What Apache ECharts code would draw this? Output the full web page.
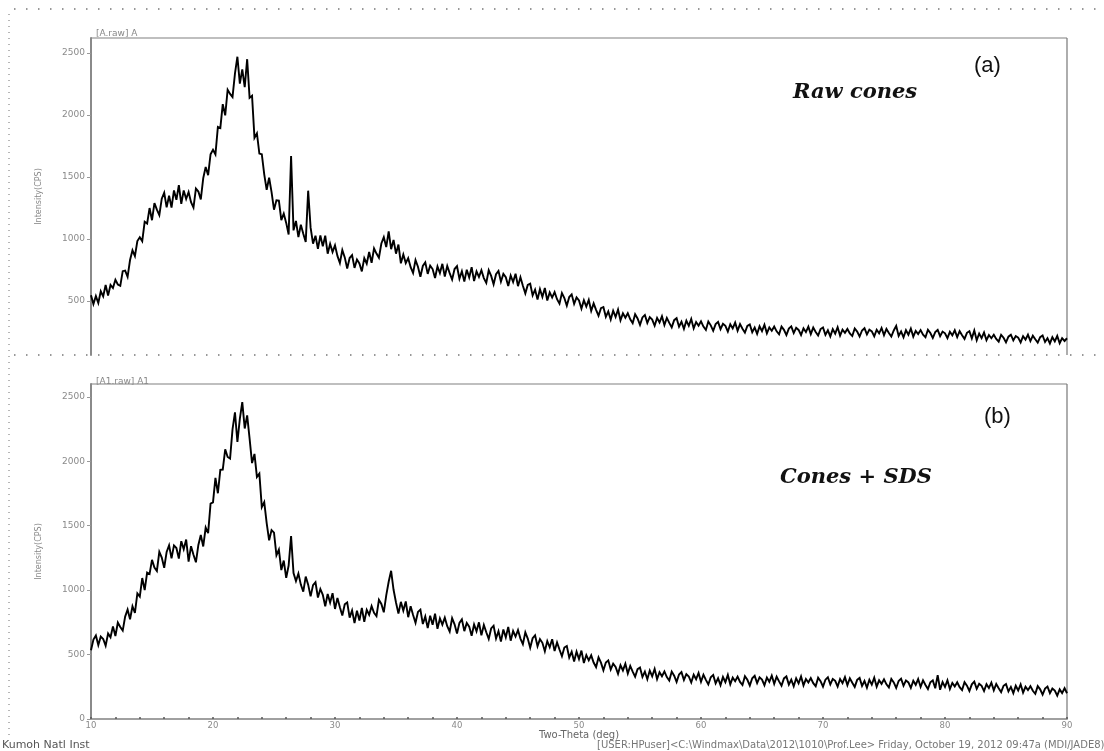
<!DOCTYPE html>
<html>
<head>
<meta charset="utf-8">
<script src="https://cdn.jsdelivr.net/npm/echarts@6/dist/echarts.min.js"></script>
<style>
html, body { margin: 0; padding: 0; background: #fff; }
#chart { width: 1104px; height: 751px; }
</style>
</head>
<body>
<div id="chart"></div>
<script>
// scan grid: 10..90 deg, 0.2 deg per point (one row = one degree)
const startDeg = 10;
const stepDeg = 0.2;

// (a) raw cones, counts
const rawCones = [
  547, 476, 540, 484, 579,
  538, 629, 544, 630, 605,
  671, 633, 623, 741, 746,
  695, 831, 909, 863, 984,
  1015, 983, 1140, 1125, 1250,
  1152, 1289, 1237, 1193, 1325,
  1374, 1255, 1349, 1254, 1392,
  1316, 1434, 1283, 1392, 1323,
  1379, 1297, 1254, 1407, 1383,
  1320, 1491, 1581, 1515, 1684,
  1720, 1682, 1904, 1895, 2088,
  1997, 2204, 2170, 2145, 2333,
  2470, 2253, 2368, 2225, 2450,
  2138, 2155, 1816, 1853, 1689,
  1684, 1522, 1397, 1494, 1379,
  1237, 1313, 1310, 1153, 1205,
  1130, 1037, 1670, 1070, 1146,
  1015, 1115, 1043, 977, 1390,
  1092, 963, 1027, 921, 1029,
  941, 1027, 882, 961, 896,
  949, 864, 807, 911, 852,
  763, 847, 870, 767, 835,
  803, 739, 846, 801, 896,
  809, 924, 883, 849, 964,
  1015, 935, 1062, 918, 993,
  882, 955, 804, 875, 806,
  846, 773, 727, 830, 777,
  696, 783, 812, 719, 786,
  758, 686, 779, 726, 800,
  698, 783, 725, 673, 758,
  781, 680, 740, 657, 753,
  690, 773, 661, 739, 694,
  748, 685, 646, 748, 703,
  635, 716, 743, 656, 719,
  692, 621, 706, 653, 720,
  620, 692, 624, 562, 630,
  640, 546, 592, 512, 596,
  533, 605, 504, 570, 528,
  572, 515, 479, 565, 524,
  463, 532, 554, 477, 530,
  505, 439, 506, 455, 509,
  421, 481, 429, 382, 443,
  452, 373, 416, 351, 422,
  372, 432, 345, 401, 365,
  402, 353, 322, 394, 360,
  308, 368, 388, 324, 370,
  351, 301, 364, 327, 377,
  307, 364, 324, 288, 346,
  362, 293, 333, 276, 342,
  300, 355, 279, 331, 301,
  337, 294, 267, 335, 304,
  260, 314, 332, 274, 317,
  300, 254, 313, 279, 326,
  261, 314, 277, 245, 299,
  312, 249, 287, 235, 296,
  257, 309, 240, 288, 261,
  295, 256, 232, 295, 268,
  226, 278, 296, 242, 284,
  267, 226, 280, 250, 294,
  234, 286, 251, 222, 274,
  287, 227, 264, 215, 274,
  237, 289, 221, 270, 244,
  275, 239, 218, 279, 254,
  214, 263, 281, 231, 270,
  255, 216, 269, 240, 283,
  225, 275, 242, 214, 263,
  300, 219, 255, 207, 265,
  229, 278, 213, 259, 234,
  266, 229, 208, 268, 242,
  202, 250, 267, 217, 254,
  240, 201, 252, 223, 264,
  209, 257, 224, 195, 244,
  257, 199, 262, 184, 238,
  201, 247, 184, 226, 200,
  228, 194, 173, 228, 204,
  167, 213, 229, 183, 218,
  205, 167, 217, 189, 229,
  177, 221, 192, 165, 209,
  222, 170, 201, 158, 208,
  175, 219, 160, 201, 178,
  200
];

// (b) cones + SDS
const conesSDS = [
  534, 616, 648, 574, 640,
  621, 569, 664, 634, 719,
  644, 748, 714, 686, 795,
  849, 774, 875, 824, 975,
  950, 1094, 1001, 1137, 1125,
  1235, 1176, 1149, 1298, 1253,
  1174, 1297, 1348, 1247, 1347,
  1327, 1245, 1380, 1318, 1393,
  1221, 1341, 1275, 1216, 1351,
  1428, 1339, 1486, 1443, 1672,
  1681, 1872, 1752, 1934, 1936,
  2093, 2034, 2021, 2248, 2380,
  2150, 2329, 2460, 2255, 2356,
  2176, 1986, 2057, 1879, 1904,
  1645, 1684, 1521, 1387, 1466,
  1446, 1271, 1315, 1156, 1230,
  1095, 1191, 1420, 1133, 1070,
  1128, 1043, 988, 1105, 1043,
  952, 1039, 1061, 943, 1009,
  964, 875, 971, 903, 977,
  854, 940, 868, 803, 890,
  905, 787, 843, 745, 841,
  764, 863, 754, 847, 809,
  876, 824, 799, 925, 893,
  828, 959, 1065, 1150, 1003,
  904, 818, 909, 841, 912,
  790, 875, 807, 747, 831,
  849, 737, 796, 705, 802,
  731, 818, 700, 780, 732,
  786, 720, 679, 782, 735,
  663, 746, 773, 682, 746,
  717, 646, 734, 681, 750,
  649, 730, 673, 622, 703,
  724, 625, 682, 601, 695,
  633, 715, 608, 683, 640,
  691, 624, 581, 673, 624,
  553, 627, 649, 564, 620,
  591, 526, 605, 557, 619,
  528, 595, 539, 487, 555,
  567, 477, 522, 447, 523,
  465, 531, 434, 496, 455,
  494, 438, 402, 478, 437,
  378, 438, 455, 384, 429,
  404, 351, 417, 377, 429,
  353, 412, 368, 328, 387,
  400, 327, 368, 309, 376,
  331, 389, 310, 363, 332,
  369, 325, 298, 368, 336,
  288, 345, 364, 303, 348,
  330, 283, 344, 309, 357,
  289, 344, 304, 268, 324,
  342, 277, 316, 263, 326,
  286, 342, 269, 321, 293,
  329, 288, 264, 332, 304,
  260, 316, 335, 279, 323,
  306, 262, 322, 289, 337,
  273, 328, 292, 259, 315,
  330, 267, 306, 254, 316,
  277, 331, 261, 310, 283,
  318, 278, 255, 321, 294,
  251, 305, 324, 268, 311,
  296, 252, 310, 278, 325,
  263, 316, 281, 249, 304,
  319, 256, 295, 243, 305,
  267, 321, 251, 300, 273,
  308, 269, 245, 311, 284,
  241, 295, 313, 258, 299,
  284, 241, 297, 265, 310,
  249, 300, 264, 233, 285,
  300, 239, 340, 227, 287,
  249, 300, 232, 280, 253,
  285, 247, 224, 286, 259,
  218, 269, 290, 234, 273,
  257, 217, 270, 240, 282,
  222, 272, 238, 209, 258,
  271, 214, 249, 201, 258,
  221, 269, 205, 250, 224,
  255, 219, 196, 255, 230,
  189, 236, 252, 201, 237,
  221, 181, 230, 201, 239,
  200
];

const yTicksTop = [500, 1000, 1500, 2000, 2500];
const yTicksBottom = [0, 500, 1000, 1500, 2000, 2500];
const panelTitles = ['[A.raw] A', '[A1.raw] A1'];
const panelTags = ['(a)', '(b)'];
const sampleNames = ['Raw cones', 'Cones + SDS'];

const toPoints = (arr) => arr.map((v, i) => [startDeg + i * stepDeg, v]);

const chart = echarts.init(document.getElementById('chart'), null, { renderer: 'canvas' });

const yAxisBase = (ticks, min, max) => ({
  type: 'value',
  min: min,
  max: max,
  name: 'Intensity(CPS)',
  nameLocation: 'middle',
  nameGap: 48,
  nameRotate: 90,
  nameTextStyle: { color: '#888', fontSize: 8, fontFamily: 'DejaVu Sans' },
  axisLine: { show: true, lineStyle: { color: '#8a8a8a', width: 2 } },
  axisTick: { show: true, length: 4, customValues: ticks, lineStyle: { color: '#999' } },
  axisLabel: {
    customValues: ticks, color: '#8a8a8a', fontSize: 9, fontFamily: 'DejaVu Sans', margin: 6,
    formatter: (v) => String(v)
  },
  splitLine: { show: false }
});

const dotted = { stroke: '#777', lineWidth: 1.5, lineDash: [1.5, 10.5] };

// noisy scan trace
const traceStyle = { color: '#000', width: 1.9, join: 'miter', miterLimit: 4 };

const option = {
  animation: false,
  backgroundColor: '#fff',
  grid: [
    { left: 91, right: 37, top: 38, height: 317 },
    { left: 91, right: 37, top: 384, bottom: 32 }
  ],
  xAxis: [
    {
      gridIndex: 0, type: 'value', min: 10, max: 90, interval: 10,
      axisLine: { show: false }, axisTick: { show: false }, axisLabel: { show: false },
      splitLine: { show: false }
    },
    {
      gridIndex: 1, type: 'value', min: 10, max: 90, interval: 10,
      name: 'Two-Theta (deg)',
      nameLocation: 'middle',
      nameGap: 9,
      nameTextStyle: { color: '#666', fontSize: 10, fontFamily: 'DejaVu Sans' },
      axisLine: { show: true, lineStyle: { color: '#a0a0a0', width: 2 } },
      axisTick: { show: true, inside: true, length: 2, lineStyle: { color: '#555', width: 1.5 } },
      minorTick: { show: true, splitNumber: 5, length: 2, lineStyle: { color: '#555', width: 1.5 } },
      axisLabel: { color: '#8a8a8a', fontSize: 8.5, fontFamily: 'DejaVu Sans', margin: 2 },
      splitLine: { show: false }
    }
  ],
  yAxis: [
    Object.assign(yAxisBase(yTicksTop, 65, 2621), { gridIndex: 0 }),
    Object.assign(yAxisBase(yTicksBottom, 0, 2600), { gridIndex: 1 })
  ],
  series: [
    {
      type: 'line', xAxisIndex: 0, yAxisIndex: 0, data: toPoints(rawCones),
      symbol: 'none', sampling: null, lineStyle: traceStyle
    },
    {
      type: 'line', xAxisIndex: 1, yAxisIndex: 1, data: toPoints(conesSDS),
      symbol: 'none', sampling: null, lineStyle: traceStyle
    }
  ],
  graphic: [
    // frame pieces
    { type: 'line', shape: { x1: 91, y1: 38, x2: 1067, y2: 38 }, style: { stroke: '#aaa', lineWidth: 1.5 } },
    { type: 'line', shape: { x1: 1067, y1: 38, x2: 1067, y2: 355 }, style: { stroke: '#777', lineWidth: 1.2 } },
    { type: 'line', shape: { x1: 91, y1: 384, x2: 1067, y2: 384 }, style: { stroke: '#aaa', lineWidth: 1.5 } },
    { type: 'line', shape: { x1: 1067, y1: 384, x2: 1067, y2: 719 }, style: { stroke: '#777', lineWidth: 1.2 } },
    // scanner page rulers
    { type: 'line', shape: { x1: 14, y1: 9, x2: 1104, y2: 9 }, style: dotted },
    { type: 'line', shape: { x1: 14, y1: 355, x2: 1104, y2: 355 }, style: dotted },
    { type: 'line', shape: { x1: 9, y1: 14, x2: 9, y2: 740 }, style: { stroke: '#888', lineWidth: 1.2, lineDash: [1, 5] } },
    // panel headers
    { type: 'text', left: 96, top: 29, style: { text: panelTitles[0], fill: '#888', font: '9px "DejaVu Sans"' } },
    { type: 'text', left: 96, top: 377, style: { text: panelTitles[1], fill: '#888', font: '9px "DejaVu Sans"' } },
    { type: 'text', left: 974, top: 55, style: { text: panelTags[0], fill: '#111', font: '22px "Liberation Sans"' } },
    { type: 'text', left: 984, top: 406, style: { text: panelTags[1], fill: '#111', font: '22px "Liberation Sans"' } },
    { type: 'text', left: 793, top: 82, style: { text: sampleNames[0], fill: '#111', font: 'italic bold 21px "DejaVu Serif"' } },
    { type: 'text', left: 780, top: 467, style: { text: sampleNames[1], fill: '#111', font: 'italic bold 21px "DejaVu Serif"' } },
    // footer
    { type: 'text', left: 2, top: 740, style: { text: 'Kumoh Natl Inst', fill: '#555', font: '11px "DejaVu Sans"' } },
    { type: 'text', left: 597, top: 740, style: { text: '[USER:HPuser]<C:\\Windmax\\Data\\2012\\1010\\Prof.Lee> Friday, October 19, 2012 09:47a (MDI/JADE8)', fill: '#777', font: '10px "DejaVu Sans"' } }
  ]
};

chart.setOption(option);
</script>
</body>
</html>
